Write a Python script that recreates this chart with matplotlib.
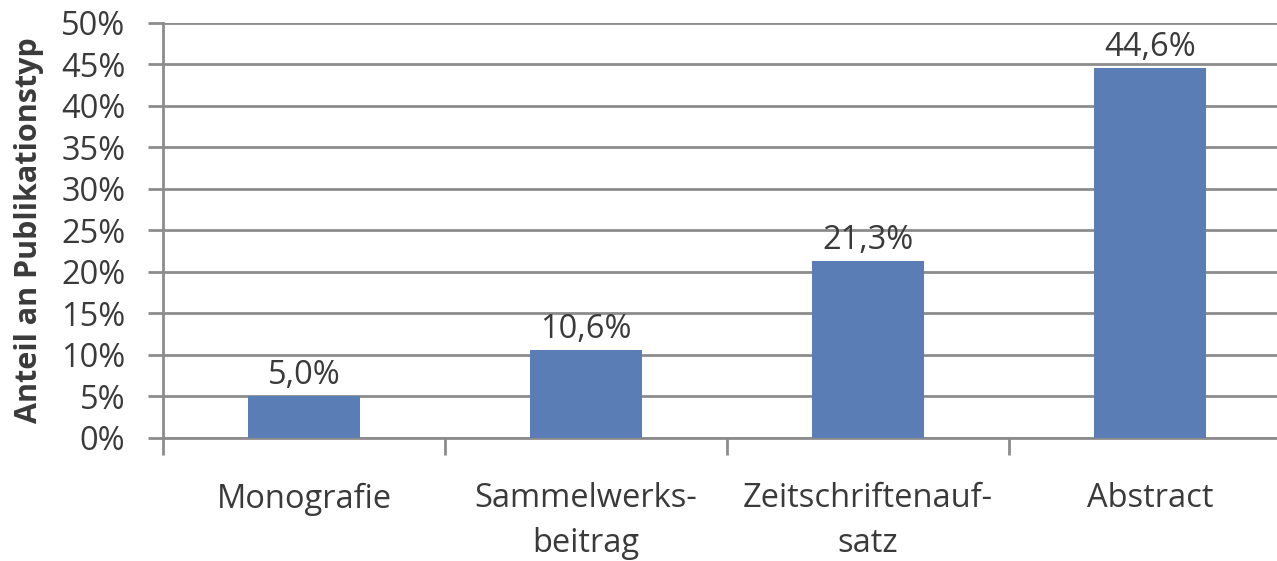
import matplotlib
matplotlib.use('Agg')
import matplotlib.pyplot as plt
from matplotlib.ticker import MultipleLocator, FuncFormatter

# data
categories = ['Monografie', 'Sammelwerks-\nbeitrag', 'Zeitschriftenauf-\nsatz', 'Abstract']
values = [5.0, 10.6, 21.3, 44.6]
labels = ['5,0%', '10,6%', '21,3%', '44,6%']

plt.rcParams['font.family'] = ['Open Sans', 'DejaVu Sans']
txt = '#3a3a3a'
grid_col = '#8c8c8c'

fig = plt.figure(figsize=(12.77, 5.61), dpi=100)
ax = fig.add_axes([0.1276, 0.2193, 0.8724, 0.7398])

x = range(len(categories))
ax.bar(x, values, width=0.4, color='#5b7db6', zorder=3)

for xi, v, lab in zip(x, values, labels):
    ax.text(xi, v + 0.5, lab, ha='center', va='bottom', fontsize=23.5, color=txt)

ax.set_ylim(0, 50)
ax.set_xlim(-0.5, 3.45)
ax.yaxis.set_major_locator(MultipleLocator(5))
ax.yaxis.set_major_formatter(FuncFormatter(lambda v, p: '%d%%' % v))
ax.grid(axis='y', color=grid_col, linewidth=2, zorder=0)

# category separators as minor ticks
ax.set_xticks([i - 0.5 for i in range(4)], minor=True)
ax.set_xticks(list(x))
ax.set_xticklabels(categories, fontsize=23.5, color=txt, linespacing=1.45)
ax.tick_params(axis='x', which='major', length=0, pad=32)
ax.tick_params(axis='x', which='minor', length=12, width=2, color=grid_col)
ax.tick_params(axis='y', length=11, width=2, color=grid_col, labelsize=23.5, labelcolor=txt, pad=16)

for s in ['top', 'right']:
    ax.spines[s].set_visible(False)
ax.spines['left'].set_color(grid_col)
ax.spines['left'].set_linewidth(2)
ax.spines['bottom'].set_color(grid_col)
ax.spines['bottom'].set_linewidth(2)

ax.set_ylabel('Anteil an Publikationstyp', fontsize=22, fontweight='bold', color=txt, labelpad=12)

fig.savefig('out.png', dpi=100)
